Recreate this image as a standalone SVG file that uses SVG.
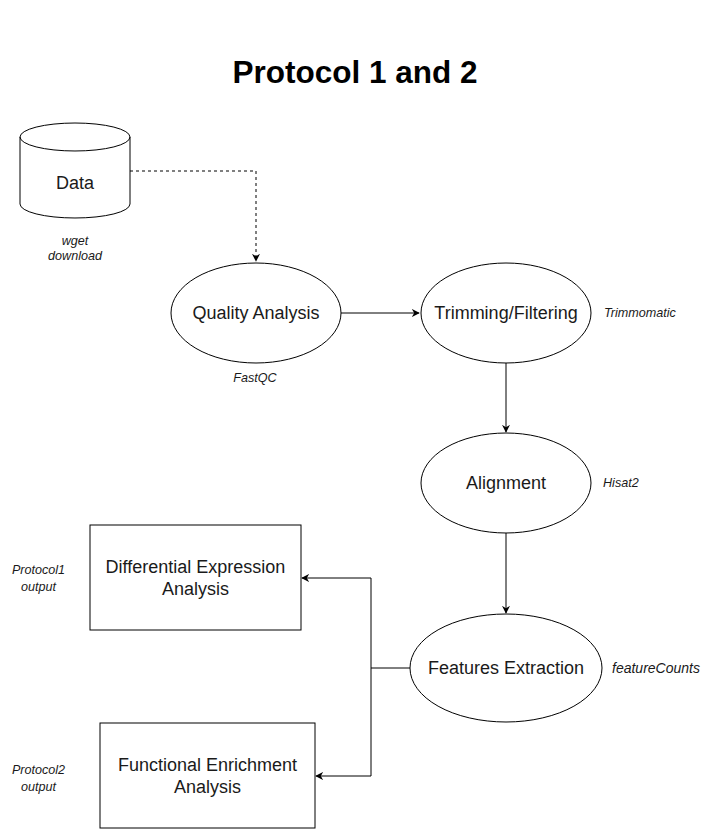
<svg xmlns="http://www.w3.org/2000/svg" width="710" height="839" viewBox="0 0 710 839">
<defs>
<style>
.shape{fill:#fff;stroke:#000;stroke-width:1}
.lbl{font-family:"Liberation Sans",Arial,sans-serif;font-size:18px;fill:#1a1a1a;text-anchor:middle;dominant-baseline:central}
.note{font-family:"Liberation Sans",Arial,sans-serif;font-size:12.6px;font-style:italic;fill:#1a1a1a;dominant-baseline:central}
.edge{fill:none;stroke:#000;stroke-width:1}
</style>
<marker id="arr" viewBox="0 0 10 10" refX="9" refY="5" markerWidth="8" markerHeight="8" markerUnits="userSpaceOnUse" orient="auto">
<path d="M0,0 L10,5 L0,10 L3,5 Z" fill="#000"/>
</marker>
</defs>
<rect width="710" height="839" fill="#fff"/>
<text x="355" y="83" font-family="Liberation Sans,Arial,sans-serif" font-size="31.5" font-weight="bold" text-anchor="middle" fill="#000">Protocol 1 and 2</text>

<g id="connectors">
<path class="edge" d="M130,171 H256 V261" stroke-dasharray="3,3" marker-end="url(#arr)"/>
<path class="edge" d="M341,313 H419" marker-end="url(#arr)"/>
<path class="edge" d="M506,363 V432" marker-end="url(#arr)"/>
<path class="edge" d="M506,533 V613" marker-end="url(#arr)"/>
<path class="edge" d="M410,668 H371 V578 H302" marker-end="url(#arr)"/>
<path class="edge" d="M371,668 V776 H316" marker-end="url(#arr)"/>
</g>

<g id="data">
<path class="shape" d="M20,137 A55,14 0 0 1 130,137 V204 A55,14 0 0 1 20,204 Z"/>
<path class="edge" d="M20,137 A55,14 0 0 0 130,137"/>
<text class="lbl" x="75" y="183">Data</text>
<text class="note" x="75" y="241" text-anchor="middle">wget</text>
<text class="note" x="75" y="256" text-anchor="middle">download</text>
</g>

<g id="quality">
<ellipse class="shape" cx="256" cy="313" rx="85" ry="50"/>
<text class="lbl" x="256" y="313">Quality Analysis</text>
<text class="note" x="255" y="378" text-anchor="middle">FastQC</text>
</g>

<g id="trimming">
<ellipse class="shape" cx="506" cy="313" rx="85" ry="50"/>
<text class="lbl" x="506" y="313">Trimming/Filtering</text>
<text class="note" x="604" y="313">Trimmomatic</text>
</g>

<g id="alignment">
<ellipse class="shape" cx="506" cy="483" rx="85" ry="50"/>
<text class="lbl" x="506" y="483">Alignment</text>
<text class="note" x="603" y="483">Hisat2</text>
</g>

<g id="features">
<ellipse class="shape" cx="506" cy="668" rx="96" ry="54"/>
<text class="lbl" x="506" y="668">Features Extraction</text>
<text class="note" x="612" y="668" style="font-size:14px">featureCounts</text>
</g>

<g id="diffexp">
<rect class="shape" x="90" y="525" width="211" height="105"/>
<text class="lbl" x="195.5" y="567">Differential Expression</text>
<text class="lbl" x="195.5" y="589">Analysis</text>
<text class="note" x="38.5" y="570" text-anchor="middle">Protocol1</text>
<text class="note" x="38.5" y="587" text-anchor="middle">output</text>
</g>

<g id="funcenrich">
<rect class="shape" x="100" y="723" width="215" height="105"/>
<text class="lbl" x="207.5" y="765">Functional Enrichment</text>
<text class="lbl" x="207.5" y="787">Analysis</text>
<text class="note" x="38.5" y="770" text-anchor="middle">Protocol2</text>
<text class="note" x="38.5" y="787" text-anchor="middle">output</text>
</g>
</svg>
